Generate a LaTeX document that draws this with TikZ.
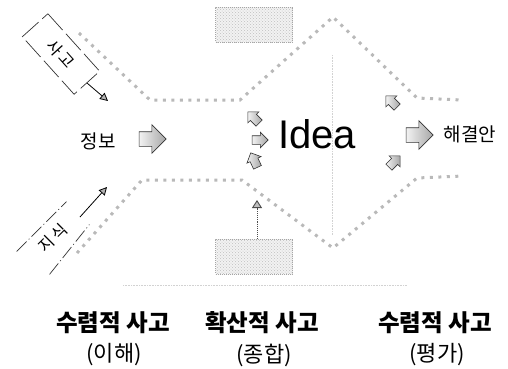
\documentclass[tikz,border=0pt]{standalone}
\usepackage{fontspec}
\setmainfont{Liberation Sans}
\newfontfamily\kr{Noto Sans CJK KR}
\usetikzlibrary{arrows.meta,shapes.arrows,patterns}
\begin{document}
\begin{tikzpicture}[x=1pt,y=-1pt,
  bound/.style={draw=gray!55, line width=3pt, dash pattern=on 3pt off 5.5pt},
  faint/.style={draw=gray!35, line width=0.6pt, densely dotted},
  fatarrow/.style={single arrow, draw=black!80, line width=0.6pt, left color=gray!10, right color=gray!70,
    inner xsep=0pt, single arrow head indent=0pt},
  smallarrow/.style={fatarrow, minimum height=16pt, inner ysep=4pt, single arrow head extend=3.5pt},
  bigarrow/.style={fatarrow, minimum height=27pt, inner ysep=7pt, single arrow head extend=7pt},
  graybox/.style={draw=gray!70, line width=1pt, densely dotted, preaction={fill=gray!10},
    pattern=crosshatch dots, pattern color=gray!50, minimum width=77pt, minimum height=35pt},
  thinarrow/.style={draw=black, line width=0.8pt, -{Triangle[width=8pt,length=8pt,fill=gray!60]}},
  lbl/.style={font=\kr\fontsize{19}{22}\selectfont, inner sep=0pt},
  tag/.style={font=\kr\fontsize{16}{18}\selectfont, inner sep=0pt},
  head/.style={font=\kr\bfseries\fontsize{23.5}{26}\selectfont, inner sep=0pt},
  sub/.style={font=\kr\fontsize{22}{25}\selectfont, inner sep=0pt}]
\useasboundingbox (0,0) rectangle (508,368);

% funnel boundaries
\draw[bound] (79,33) -- (150,100) -- (240,100) -- (333,17) -- (417,98) -- (462,100);
\draw[bound] (77,253) -- (142,180) -- (242,180) -- (333,248) -- (417,178) -- (463,176);

% faint guide lines
\draw[faint] (332,55) -- (332,235);
\draw[faint] (123,285) -- (407,285);

% gray boxes
\node[graybox] (topbox) at (254,24.5) {};
\node[graybox] (botbox) at (254,256.5) {};
\coordinate (bottip) at (257,200);
\draw[draw=black!70, line width=0.9pt, densely dotted, -{Triangle[width=10pt,length=8pt,fill=gray!50]}]
  (botbox.north -| bottip) -- (bottip);

% 사고 box
\node[tag, rotate=-48, minimum width=77pt, minimum height=34pt] (sago) at (61,54) {사\,고};
\draw[black!80, line width=0.7pt, dash pattern=on 22pt off 5pt] (sago.north west) -- (sago.north east) -- (sago.south east) -- (sago.south west) -- cycle;
\coordinate (sagoA) at (87,83);
\coordinate (sagoB) at (108,101);
\draw[thinarrow] (sagoA) -- (sagoB);

% 지식 box
\node[tag, rotate=45, minimum width=70pt, minimum height=32pt] (jisik) at (53,238) {지\,식};
\draw[black!80, line width=0.7pt, dash pattern=on 14pt off 3pt on 1pt off 3pt] (jisik.north west) -- (jisik.north east);
\draw[black!80, line width=0.7pt, dash pattern=on 14pt off 3pt on 1pt off 3pt] ([shift={(10pt,0pt)}]jisik.south west) -- (jisik.south east);
\coordinate (jisikA) at (80,217);
\coordinate (jisikB) at (107,187);
\draw[thinarrow] (jisikA) -- (jisikB);

% main row
\node[lbl] (jeongbo) at (98,141) {정보};
\node[bigarrow] (arr1) at (149,139) {};
\node[inner sep=0pt, font=\fontsize{40}{44}\selectfont] (idea) at (317,134) {Idea};
\node[smallarrow, rotate=135] (up1) at (255,119) {};
\node[smallarrow] (mid1) at (258,140) {};
\node[smallarrow, rotate=115] (dn1) at (255,162) {};
\node[smallarrow, rotate=135] (up2) at (393,103) {};
\node[smallarrow, rotate=45] (dn2) at (393,163) {};
\node[bigarrow] (arr2) at (416,135) {};
\node[lbl] (haegyeol) at (470,134) {해결안};

% bottom labels
\node[head] (h1) at (113,323) {수렴적 사고};
\node[sub] (s1) at (114,355) {(이해)};
\node[head] (h2) at (262,323) {확산적 사고};
\node[sub] (s2) at (264,355) {(종합)};
\node[head] (h3) at (435,323) {수렴적 사고};
\node[sub] (s3) at (437,355) {(평가)};
\end{tikzpicture}
\end{document}
